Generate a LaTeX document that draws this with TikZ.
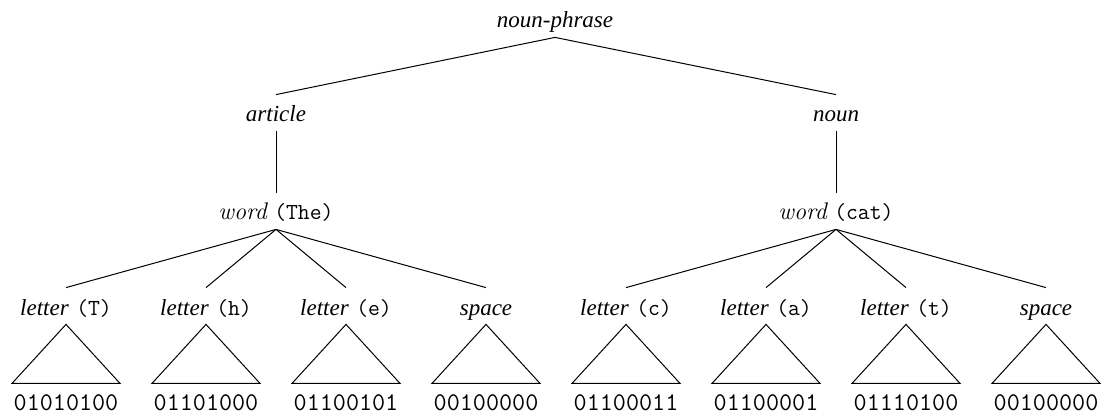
\documentclass[tikz,border=0pt]{standalone}
\usepackage{fontspec}
\newfontfamily\labelfont{Liberation Serif}
% category names, the word category, and literal characters
\newcommand\syn[1]{{\labelfont\itshape #1}}
\newcommand\wordlbl{{\fontsize{12}{14}\selectfont\itshape word}}
\newcommand\tok[1]{{\fontsize{11.5}{13}\selectfont\ttfamily #1}}
\tikzset{
  lbl/.style={inner xsep=1pt, inner ysep=1.5pt, text height=12pt, text depth=3pt,
              font=\fontsize{11.5}{13}\selectfont},
  bits/.style={font=\fontsize{12.7}{14}\selectfont\ttfamily, inner sep=0pt, anchor=base},
  edge/.style={line width=0.5pt},
}
\begin{document}
\begin{tikzpicture}[x=0.5pt, y=-0.5pt]
\useasboundingbox (0,0) rectangle (1106,416);

% top levels
\node[lbl] (np)  at (555,19)  {\syn{noun-phrase}};
\node[lbl] (art) at (276,113) {\syn{article}};
\node[lbl] (nn)  at (836,113) {\syn{noun}};
\node[lbl] (w1)  at (276,211) {\wordlbl{} \tok{(The)}};
\node[lbl] (w2)  at (836,211) {\wordlbl{} \tok{(cat)}};

% letters
\node[lbl] (l1) at (66,306)   {\syn{letter} \tok{(T)}};
\node[lbl] (l2) at (206,306)  {\syn{letter} \tok{(h)}};
\node[lbl] (l3) at (346,306)  {\syn{letter} \tok{(e)}};
\node[lbl] (l4) at (486,306)  {\syn{space}};
\node[lbl] (l5) at (626,306)  {\syn{letter} \tok{(c)}};
\node[lbl] (l6) at (766,306)  {\syn{letter} \tok{(a)}};
\node[lbl] (l7) at (906,306)  {\syn{letter} \tok{(t)}};
\node[lbl] (l8) at (1046,306) {\syn{space}};

% bit strings
\node[bits] (b1) at (66,410)   {01010100};
\node[bits] (b2) at (206,410)  {01101000};
\node[bits] (b3) at (346,410)  {01100101};
\node[bits] (b4) at (486,410)  {00100000};
\node[bits] (b5) at (626,410)  {01100011};
\node[bits] (b6) at (766,410)  {01100001};
\node[bits] (b7) at (906,410)  {01110100};
\node[bits] (b8) at (1046,410) {00100000};

% branches
\draw[edge] (np.south) -- (art.north);
\draw[edge] (np.south) -- (nn.north);
\draw[edge] (art.south) -- (w1.north);
\draw[edge] (nn.south) -- (w2.north);
\foreach \l in {l1,l2,l3,l4} \draw[edge] (w1.south) -- (\l.north);
\foreach \l in {l5,l6,l7,l8} \draw[edge] (w2.south) -- (\l.north);

% collapsed subtrees
\foreach \l in {l1,l2,l3,l4,l5,l6,l7,l8}
  \draw[edge, line join=miter] (\l.south) -- ++(-54,59) -- ++(108,0) -- cycle;
\end{tikzpicture}
\end{document}
